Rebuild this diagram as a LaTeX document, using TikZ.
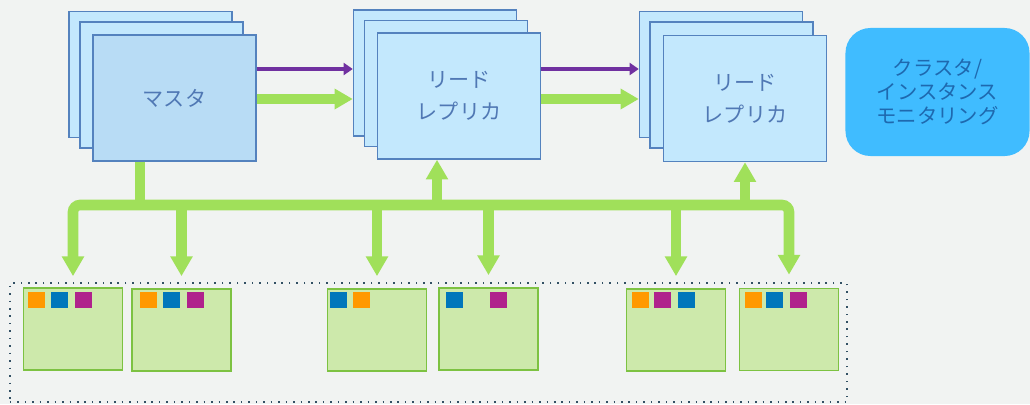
\documentclass[tikz,border=0pt]{standalone}
\usepackage{fontspec}
\newfontfamily\jpfont{Noto Sans CJK JP}
\usetikzlibrary{calc,positioning,arrows.meta}
\definecolor{bggray}{RGB}{241,243,242}
\definecolor{sheetfill}{RGB}{195,232,253}
\definecolor{masterfill}{RGB}{184,220,245}
\definecolor{sheetline}{RGB}{84,130,190}
\definecolor{labelblue}{RGB}{80,120,180}
\definecolor{monfill}{RGB}{64,188,255}
\definecolor{montext}{RGB}{30,105,175}
\definecolor{arrowgreen}{RGB}{160,224,90}
\definecolor{syncpurple}{RGB}{112,48,160}
\definecolor{nodefill}{RGB}{205,233,171}
\definecolor{nodeline}{RGB}{125,194,66}
\definecolor{orng}{RGB}{255,153,0}
\definecolor{blu}{RGB}{0,119,187}
\definecolor{mag}{RGB}{176,34,140}
\definecolor{pooldots}{RGB}{50,80,100}
\tikzset{
  sheet/.style={draw=sheetline,fill=sheetfill,line width=1pt,
                minimum width=4.075cm,minimum height=3.15cm,inner sep=0pt},
  frontsheet/.style={sheet,text=labelblue,align=center,
                font=\jpfont\fontsize{15}{23}\selectfont},
  monbox/.style={fill=monfill,rounded corners=0.625cm,text=montext,align=center,
                minimum width=4.6cm,minimum height=3.2cm,inner sep=0pt,
                font=\jpfont\fontsize{14.5}{17}\selectfont},
  pool/.style={draw=pooldots,line width=1.1pt,dash pattern=on 1.1pt off 4.2pt,
                minimum width=20.925cm,minimum height=2.975cm,inner sep=0pt},
  worker/.style={draw=nodeline,fill=nodefill,line width=1.2pt,
                minimum width=2.475cm,minimum height=2.05cm,inner sep=0pt},
  chip/.style={minimum width=0.425cm,minimum height=0.4cm,inner sep=0pt,anchor=north west},
  sync/.style={draw=syncpurple,line width=3.5pt,-{Triangle[width=8.5pt,length=6.5pt]}},
  flow/.style={draw=arrowgreen,line width=7pt,-{Triangle[width=14pt,length=13pt]}},
  busline/.style={draw=arrowgreen,line width=7.5pt},
  drop/.style={busline,-{Triangle[width=15pt,length=14pt]}},
}
\begin{document}
\begin{tikzpicture}[x=0.025cm,y=-0.025cm]
  \fill[bggray] (0,0) rectangle (1030,404);
  \useasboundingbox (0,0) rectangle (1030,404);

  % master stack
  \node[sheet] (mback) at (150.5,74.5) {};
  \node[sheet] (mmid) at (161.5,85) {};
  \node[frontsheet,fill=masterfill] (m) at (174.5,98) {マスタ};

  % read replicas
  \node[sheet] (r1back) at (435,73) {};
  \node[sheet] (r1mid) at (446,83.5) {};
  \node[frontsheet] (r1) at (459,96) {リード\\レプリカ};
  \node[sheet] (r2back) at (721,74.5) {};
  \node[sheet] (r2mid) at (731.5,85) {};
  \node[frontsheet] (r2) at (745,98.5) {リード\\レプリカ};

  \node[monbox] (mon) at (937.5,92) {クラスタ/\\インスタンス\\モニタリング};

  % replication arrows
  \coordinate (lvl1) at (0,69);
  \coordinate (lvl2) at (0,99);
  \draw[sync] (m.east |- lvl1) -- (r1back.west |- lvl1);
  \draw[flow] (m.east |- lvl2) -- (r1back.west |- lvl2);
  \draw[sync] (r1.east |- lvl1) -- (r2back.west |- lvl1);
  \draw[flow] (r1.east |- lvl2) -- (r2back.west |- lvl2);

  % storage pool
  \node[pool] (pool) at (428.5,342.5) {};
  \node[worker] (b1) at (73,329) {};
  \node[worker] (b2) at (181.5,330) {};
  \node[worker] (b3) at (377,330) {};
  \node[worker] (b4) at (488.5,329) {};
  \node[worker] (b5) at (676,330) {};
  \node[worker] (b6) at (789,329.5) {};
  \foreach \x/\c [count=\i] in {28/orng,51/blu,75/mag,140/orng,163/blu,187/mag,
      330/blu,353/orng,446/blu,490/mag,632/orng,654/mag,678/blu,745/orng,766/blu,790/mag}
    \node[chip,fill=\c] (q\i) at (\x,292) {};

  % shared bus
  \coordinate (bus) at (0,205);
  \coordinate (stem) at (140,0);
  \coordinate (up1) at (437,0);
  \draw[busline] (m.south -| stem) -- (stem |- bus);
  \draw[busline,{Triangle[width=15pt,length=14pt]}-{Triangle[width=15pt,length=14pt]},
        rounded corners=5pt]
    ($(b1.north)+(0,-11)$) -- (b1.north |- bus) -- (b6.north |- bus) -- ($(b6.north)+(0,-13)$);
  \foreach \b in {b2,b3,b4,b5}
    \draw[drop] (\b.north |- bus) -- ($(\b.north)+(0,-12)$);
  \draw[drop] (up1 |- bus) -- (r1.south -| up1);
  \draw[drop] (r2.south |- bus) -- (r2.south);
\end{tikzpicture}
\end{document}
